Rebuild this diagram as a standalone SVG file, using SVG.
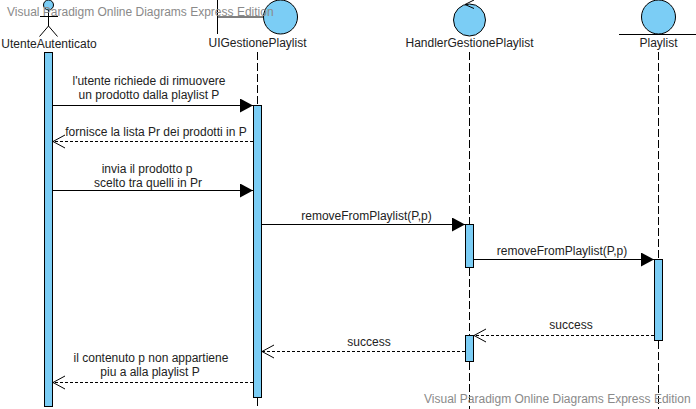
<svg xmlns="http://www.w3.org/2000/svg" width="696" height="409" viewBox="0 0 696 409">
<style>
text{font-family:"Liberation Sans",Arial,sans-serif;font-size:12px;fill:#222;text-anchor:middle}
.wm{fill:#8a8a8a;text-anchor:start}
.l{fill:none;stroke:#000;stroke-width:1}
.life{fill:none;stroke:#000;stroke-width:1;stroke-dasharray:8 3}
.ret{fill:none;stroke:#000;stroke-width:1;stroke-dasharray:3 2}
.fill{fill:#7bcdf5;stroke:#000;stroke-width:1}
</style>
<defs>
<marker id="solid" markerUnits="userSpaceOnUse" markerWidth="14" markerHeight="16" refX="13" refY="7" orient="auto"><path d="M0 0L13 7L0 14Z" fill="#000"/></marker>
<marker id="open" markerUnits="userSpaceOnUse" markerWidth="15" markerHeight="16" refX="12" refY="7.5" orient="auto"><path d="M0 1L12 7.500L0 14" fill="none" stroke="#000"/></marker>
</defs>
<g id="lifelines">
<path class="life" d="M257.500 52V105M257.500 398V409M469.500 52V224M469.500 268V335M469.500 362V409M658.500 52V259M658.500 341V409"/>
</g>
<g id="UtenteAutenticato">
<rect class="fill" x="44.500" y="52.500" width="8" height="354"/>
<circle class="fill" cx="48.500" cy="5" r="5"/>
<path class="l" d="M48.500 10V26M40 16.500H58M48.500 26L39.500 36.500M48.500 26L57.500 36.500"/>
<text x="49" y="48">UtenteAutenticato</text>
</g>
<g id="UIGestionePlaylist">
<rect class="fill" x="253.500" y="105.500" width="8" height="292"/>
<path class="l" d="M217.500 0V34M217.500 17H263"/>
<circle class="fill" cx="280.500" cy="17" r="17"/>
<text x="257.500" y="47">UIGestionePlaylist</text>
</g>
<g id="HandlerGestionePlaylist">
<rect class="fill" x="465.500" y="224.500" width="8" height="43"/>
<rect class="fill" x="465.500" y="335.500" width="8" height="26"/>
<circle class="fill" cx="469.500" cy="20" r="16"/>
<path class="l" d="M474 0L465 4.500L474 8.500"/>
<text x="469.500" y="47">HandlerGestionePlaylist</text>
</g>
<g id="Playlist">
<rect class="fill" x="654.500" y="259.500" width="8" height="81"/>
<circle class="fill" cx="658.500" cy="17" r="17"/>
<path class="l" d="M619 34.500H696"/>
<text x="658.500" y="47">Playlist</text>
</g>
<g id="connectors">
<path class="l" d="M52 105.500H253" marker-end="url(#solid)"/>
<path class="ret" d="M253 141.500H53" marker-end="url(#open)"/>
<path class="l" d="M52 190.500H253" marker-end="url(#solid)"/>
<path class="l" d="M261 224.500H465" marker-end="url(#solid)"/>
<path class="l" d="M473 259.500H654" marker-end="url(#solid)"/>
<path class="ret" d="M654 335.500H474" marker-end="url(#open)"/>
<path class="ret" d="M465 351.500H262" marker-end="url(#open)"/>
<path class="ret" d="M253 382.500H53" marker-end="url(#open)"/>
</g>
<g id="labels">
<text x="149" y="85">l'utente richiede di rimuovere</text>
<text x="149" y="99">un prodotto dalla playlist P</text>
<text x="156" y="136">fornisce la lista Pr dei prodotti in P</text>
<text x="147" y="173">invia il prodotto p</text>
<text x="148" y="187">scelto tra quelli in Pr</text>
<text x="366.500" y="220">removeFromPlaylist(P,p)</text>
<text x="562" y="255">removeFromPlaylist(P,p)</text>
<text x="571" y="329">success</text>
<text x="369" y="346">success</text>
<text x="151" y="362">il contenuto p non appartiene</text>
<text x="150" y="376">piu a alla playlist P</text>
</g>
<text class="wm" x="7" y="16">Visual Paradigm Online Diagrams Express Edition</text>
<text class="wm" x="424" y="403">Visual Paradigm Online Diagrams Express Edition</text>
</svg>
